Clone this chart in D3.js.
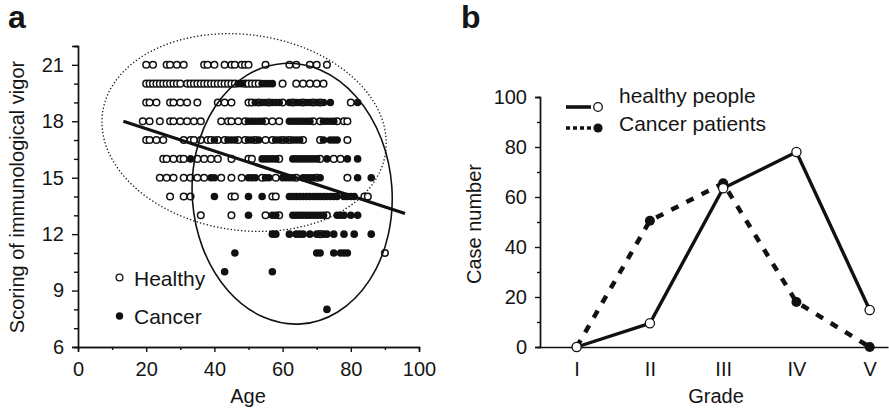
<!DOCTYPE html>
<html>
<head>
<meta charset="utf-8">
<script src="https://cdn.jsdelivr.net/npm/d3@7"></script>
<style>
  body { margin: 0; background: #fff; }
  svg { display: block; font-family: "Liberation Sans", Arial, Helvetica, sans-serif; }
  text { fill: #151515; }
</style>
</head>
<body>
<div id="chart"></div>
<script>
const svgWidth = 889
const svgHeight = 412

// panel a: score rows and the ages seen on each row
const scoreRows = [21, 20, 19, 18, 17, 16, 15, 14, 13, 12, 11, 10, 9, 8]
const healthyAges = [
  [20, 22, 26, 27, 29, 31, 37, 38, 40, 43, 45, 46, 48, 49, 50, 55, 62, 64, 68, 70, 73],
  [20, 21, 22, 23, 24, 25, 26, 27, 28, 29, 30, 32, 33, 34, 35, 36, 37, 38, 39, 40, 41, 42, 43, 44, 45, 46, 49, 50, 51, 52, 53, 60, 64, 66, 68, 70, 72],
  [20, 21, 23, 27, 28, 30, 32, 35, 41, 43, 45, 50, 51, 53, 56, 60, 63, 66, 69, 71, 80],
  [19, 21, 24, 27, 28, 30, 32, 34, 36, 42, 44, 45, 47, 49, 55, 57, 59, 69, 71, 76, 78, 79],
  [20, 21, 23, 25, 31, 33, 34, 36, 38, 39, 41, 43, 47, 49, 52, 55, 57, 60, 62, 66, 71, 79],
  [25, 26, 28, 30, 31, 35, 37, 39, 41, 45, 50, 51, 59, 71, 75, 77],
  [24, 26, 28, 31, 33, 35, 37, 42, 45, 48, 54, 58, 64, 70, 79],
  [27, 31, 33, 45, 46, 57, 58, 84, 85],
  [36, 45, 55, 59, 73],
  [71],
  [90],
  [],
  [],
  []
]
const cancerAges = [
  [],
  [47, 48, 54, 55, 56, 57],
  [52, 54, 55, 57, 58, 59, 62, 64, 65, 67, 68, 70, 72, 74, 82],
  [50, 51, 52, 53, 54, 62, 63, 64, 65, 66, 67, 68, 72, 73, 74, 75],
  [40, 44, 45, 46, 50, 51, 53, 58, 59, 61, 63, 64, 65, 72, 74, 75, 76],
  [33, 54, 55, 56, 57, 58, 63, 64, 65, 66, 67, 68, 69, 70, 73, 79, 82],
  [39, 40, 50, 51, 52, 55, 56, 60, 61, 62, 63, 66, 67, 68, 69, 71, 82, 86],
  [40, 50, 54, 62, 63, 64, 65, 66, 67, 68, 69, 70, 71, 72, 73, 74, 75, 76, 78, 79, 80, 81],
  [50, 57, 58, 63, 64, 65, 66, 67, 68, 69, 70, 71, 72, 76, 77, 78, 80, 82],
  [57, 58, 62, 64, 65, 66, 68, 70, 72, 73, 75, 78, 81, 86],
  [46, 70, 71, 75, 77, 78, 79],
  [43, 57],
  [],
  [73]
]
// regression line end points [age, score]
const trendLine = [[13.3, 18.0], [95.9, 13.1]]
// group ellipses: centre age, centre score, radius in years, radius in score, tilt (deg)
const healthyEllipse = [48.7, 17.4, 41.9, 5.2, 8]
const cancerEllipse = [62.8, 14.15, 29.3, 6.94, -4]

// panel b
const grades = ["I", "II", "III", "IV", "V"]
const healthyCases = [0, 9.5, 63.5, 78, 14.8]
const cancerCases = [0, 50.5, 65.5, 18, 0]

let svg = d3.select("#chart")
  .append("svg")
  .attr("width", svgWidth)
  .attr("height", svgHeight)

// ---------- panel a ----------
let xA = d3.scaleLinear().domain([0, 100]).range([78, 419])
let yA = d3.scaleLinear().domain([6, 22]).range([347, 46])

let gA = svg.append("g")

gA.append("g")
  .attr("transform", `translate(0, ${yA(6)})`)
  .call(d3.axisBottom(xA).tickValues(d3.range(10, 100, 20)).tickSize(3).tickFormat(""))
gA.append("g")
  .attr("transform", `translate(0, ${yA(6)})`)
  .call(d3.axisBottom(xA).tickValues(d3.range(0, 101, 20)).tickSize(5).tickPadding(10))

gA.append("g")
  .attr("transform", `translate(${xA(0)}, 0)`)
  .call(d3.axisLeft(yA).tickValues(d3.range(7, 23).filter(d => d % 3 !== 0)).tickSize(4).tickFormat(""))
gA.append("g")
  .attr("transform", `translate(${xA(0)}, 0)`)
  .call(d3.axisLeft(yA).tickValues(d3.range(6, 22, 3)).tickSize(6).tickPadding(8))

gA.selectAll(".domain, .tick line").attr("stroke", "#111").attr("stroke-width", 1.4)
gA.selectAll(".tick text").attr("font-size", "20px").attr("fill", "#151515")

function drawEllipse(e, dash) {
  let cx = xA(e[0]), cy = yA(e[1])
  let rx = xA(e[0] + e[2]) - cx
  let ry = cy - yA(e[1] + e[3])
  gA.append("ellipse")
    .attr("cx", cx)
    .attr("cy", cy)
    .attr("rx", rx)
    .attr("ry", ry)
    .attr("transform", `rotate(${e[4]}, ${cx}, ${cy})`)
    .attr("fill", "none")
    .attr("stroke", "#111")
    .attr("stroke-width", dash ? 1.3 : 1.6)
    .attr("stroke-dasharray", dash)
}
drawEllipse(healthyEllipse, "1.3,2.2")

let healthyPts = []
let cancerPts = []
scoreRows.forEach((s, i) => {
  healthyAges[i].forEach(a => healthyPts.push([a, s]))
  cancerAges[i].forEach(a => cancerPts.push([a, s]))
})

gA.selectAll(".healthy")
  .data(healthyPts)
  .enter()
  .append("circle")
  .attr("class", "healthy")
  .attr("cx", d => xA(d[0]))
  .attr("cy", d => yA(d[1]))
  .attr("r", 3.3)
  .attr("fill", "#fff")
  .attr("stroke", "#111")
  .attr("stroke-width", 1.5)

gA.selectAll(".cancer")
  .data(cancerPts)
  .enter()
  .append("circle")
  .attr("class", "cancer")
  .attr("cx", d => xA(d[0]))
  .attr("cy", d => yA(d[1]))
  .attr("r", 3.8)
  .attr("fill", "#111")

drawEllipse(cancerEllipse, null)

gA.append("line")
  .attr("x1", xA(trendLine[0][0]))
  .attr("y1", yA(trendLine[0][1]))
  .attr("x2", xA(trendLine[1][0]))
  .attr("y2", yA(trendLine[1][1]))
  .attr("stroke", "#111")
  .attr("stroke-width", 3.2)

// legend a
gA.append("circle").attr("cx", 119.5).attr("cy", 277.5).attr("r", 3.4)
  .attr("fill", "#fff").attr("stroke", "#111").attr("stroke-width", 1.3)
gA.append("text").attr("x", 134).attr("y", 286).attr("font-size", "21px").text("Healthy")
gA.append("circle").attr("cx", 119.5).attr("cy", 316).attr("r", 3.7).attr("fill", "#111")
gA.append("text").attr("x", 134).attr("y", 324).attr("font-size", "21px").text("Cancer")

gA.append("text")
  .attr("x", 248)
  .attr("y", 403)
  .attr("text-anchor", "middle")
  .attr("font-size", "20px")
  .text("Age")

gA.append("text")
  .attr("transform", "rotate(-90)")
  .attr("x", -197)
  .attr("y", 24)
  .attr("text-anchor", "middle")
  .attr("font-size", "20px")
  .text("Scoring of immunological vigor")

svg.append("text")
  .attr("x", 8)
  .attr("y", 28)
  .attr("font-size", "32px")
  .attr("font-weight", "bold")
  .text("a")

// ---------- panel b ----------
let xB = d3.scaleLinear().domain([-0.5, 4.25]).range([540, 888])
let yB = d3.scaleLinear().domain([0, 100]).range([347, 97])

let gB = svg.append("g")

gB.append("g")
  .attr("transform", `translate(0, ${yB(0)})`)
  .call(d3.axisBottom(xB).tickValues(d3.range(grades.length)).tickSize(0).tickPadding(15)
    .tickFormat(i => grades[i]))

gB.append("g")
  .attr("transform", `translate(${xB(-0.5)}, 0)`)
  .call(d3.axisLeft(yB).tickValues(d3.range(10, 100, 20)).tickSize(3).tickFormat(""))
gB.append("g")
  .attr("transform", `translate(${xB(-0.5)}, 0)`)
  .call(d3.axisLeft(yB).tickValues(d3.range(0, 101, 20)).tickSize(5).tickPadding(8))

gB.selectAll(".domain, .tick line").attr("stroke", "#111").attr("stroke-width", 1.4)
gB.selectAll(".tick text").attr("font-size", "20px").attr("fill", "#151515")

let lineB = d3.line()
  .x((d, i) => xB(i))
  .y(d => yB(d))

gB.append("path")
  .datum(cancerCases)
  .attr("d", lineB)
  .attr("fill", "none")
  .attr("stroke", "#111")
  .attr("stroke-width", 4.5)
  .attr("stroke-dasharray", "8,9")

gB.append("path")
  .datum(healthyCases)
  .attr("d", lineB)
  .attr("fill", "none")
  .attr("stroke", "#111")
  .attr("stroke-width", 3.4)

gB.selectAll(".cpt")
  .data(cancerCases)
  .enter()
  .append("circle")
  .attr("class", "cpt")
  .attr("cx", (d, i) => xB(i))
  .attr("cy", d => yB(d))
  .attr("r", 5)
  .attr("fill", "#111")

gB.selectAll(".hpt")
  .data(healthyCases)
  .enter()
  .append("circle")
  .attr("class", "hpt")
  .attr("cx", (d, i) => xB(i))
  .attr("cy", d => yB(d))
  .attr("r", 4.6)
  .attr("fill", "#fff")
  .attr("stroke", "#111")
  .attr("stroke-width", 1.3)

// legend b
gB.append("line").attr("x1", 566).attr("x2", 591).attr("y1", 107).attr("y2", 107)
  .attr("stroke", "#111").attr("stroke-width", 3.6)
gB.append("circle").attr("cx", 598).attr("cy", 107).attr("r", 4.3)
  .attr("fill", "#fff").attr("stroke", "#111").attr("stroke-width", 1.3)
gB.append("text").attr("x", 619).attr("y", 103).attr("font-size", "21px").text("healthy people")

gB.append("line").attr("x1", 566).attr("x2", 592).attr("y1", 128).attr("y2", 128)
  .attr("stroke", "#111").attr("stroke-width", 3.6).attr("stroke-dasharray", "4,3")
gB.append("circle").attr("cx", 598).attr("cy", 128).attr("r", 4.6).attr("fill", "#111")
gB.append("text").attr("x", 619).attr("y", 131).attr("font-size", "21px").text("Cancer patients")

gB.append("text")
  .attr("x", 716)
  .attr("y", 403)
  .attr("text-anchor", "middle")
  .attr("font-size", "20px")
  .text("Grade")

gB.append("text")
  .attr("transform", "rotate(-90)")
  .attr("x", -224)
  .attr("y", 481)
  .attr("text-anchor", "middle")
  .attr("font-size", "20px")
  .text("Case number")

svg.append("text")
  .attr("x", 461)
  .attr("y", 28)
  .attr("font-size", "32px")
  .attr("font-weight", "bold")
  .text("b")
</script>
</body>
</html>
